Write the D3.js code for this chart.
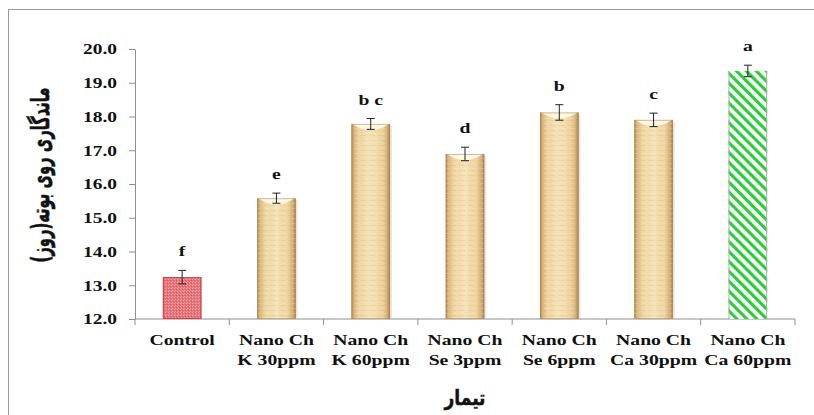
<!DOCTYPE html>
<html>
<head>
<meta charset="utf-8">
<script src="https://cdn.jsdelivr.net/npm/d3@7"></script>
<style>
  html, body { margin: 0; padding: 0; background: #fff; }
  svg { display: block; }
</style>
</head>
<body>
<svg id="chart" width="814" height="415"></svg>
<script>
// Treatments, shelf-life means (days), standard errors and grouping letters
const categories = [
  ["Control"],
  ["Nano Ch", "K 30ppm"],
  ["Nano Ch", "K 60ppm"],
  ["Nano Ch", "Se 3ppm"],
  ["Nano Ch", "Se 6ppm"],
  ["Nano Ch", "Ca 30ppm"],
  ["Nano Ch", "Ca 60ppm"]
];
const values = [13.24, 15.58, 17.78, 16.89, 18.12, 17.90, 19.35];
const errors = [0.20, 0.15, 0.16, 0.20, 0.23, 0.20, 0.17];
const letters = ["f", "e", "b c", "d", "b", "c", "a"];
const fillKinds = ["control", "tan", "tan", "tan", "tan", "tan", "stripe"];
const yTicks = [12, 13, 14, 15, 16, 17, 18, 19, 20];
const yTitle = "ماندگاری روی بوته(روز)";
const xTitle = "تیمار";

const svg = d3.select("#chart");
const W = 814, H = 415;
const plot = { left: 135, right: 795, top: 49, bottom: 319 };
const serif = "Liberation Serif, Times New Roman, DejaVu Serif, serif";
const arabic = "DejaVu Sans, sans-serif";
const axisGrey = "#8f8f8f";

// horizontal stretch so a reference string fills a given width
function stretchFor(sample, size, targetWidth, family) {
  const t = svg.append("text")
    .style("font-family", family).style("font-weight", "bold").style("font-size", size + "px")
    .text(sample);
  const w = t.node().getComputedTextLength();
  t.remove();
  return w > 0 ? targetWidth / w : 1;
}
const labelStretch = stretchFor("Nano Ch", 15, 75, serif);
const tickStretch = stretchFor("18.0", 14.5, 34, serif);

// outer frame
svg.append("rect")
  .attr("x", 8.5).attr("y", 9.5)
  .attr("width", W + 20).attr("height", H + 20)
  .attr("fill", "#fff").attr("stroke", "#9a9a9a").attr("stroke-width", 1);

const keys = categories.map((c, i) => "c" + i);
const x = d3.scaleBand().domain(keys).range([plot.left, plot.right]).paddingInner(0).paddingOuter(0);
const y = d3.scaleLinear().domain([12, 20]).range([plot.bottom, plot.top]);
const barW = x.bandwidth() * 0.41;

// ---- fills ----
const defs = svg.append("defs");

// tan bars: shaded cylinder with fine horizontal grain
const tanGrad = defs.append("linearGradient").attr("id", "tanGrad")
  .attr("x1", "0").attr("x2", "1").attr("y1", "0").attr("y2", "0");
[[0, "#b48a52"], [0.07, "#dab67c"], [0.2, "#efd6a2"], [0.5, "#f5e2b8"],
 [0.8, "#eed39f"], [0.93, "#d4ae74"], [1, "#a67d46"]]
  .forEach(([o, c]) => tanGrad.append("stop").attr("offset", o).attr("stop-color", c));

const grain = defs.append("pattern").attr("id", "grain")
  .attr("patternUnits", "userSpaceOnUse").attr("width", 9).attr("height", 5);
grain.append("rect").attr("width", 6).attr("height", 1).attr("y", 0)
  .attr("fill", "#c9a36a").attr("opacity", 0.18);
grain.append("rect").attr("width", 4).attr("height", 1).attr("x", 4).attr("y", 3)
  .attr("fill", "#fff6e0").attr("opacity", 0.25);

// control bar: stippled red
const dots = defs.append("pattern").attr("id", "dots")
  .attr("patternUnits", "userSpaceOnUse").attr("width", 3).attr("height", 3);
dots.append("rect").attr("width", 3).attr("height", 3).attr("fill", "#e6767c");
dots.append("rect").attr("width", 1).attr("height", 1).attr("x", 0).attr("y", 0).attr("fill", "#f4a9ab");
dots.append("rect").attr("width", 1).attr("height", 1).attr("x", 2).attr("y", 1).attr("fill", "#d85560");
dots.append("rect").attr("width", 1).attr("height", 1).attr("x", 1).attr("y", 2).attr("fill", "#f19497");

// green diagonal hatch, stripes falling to the right
const hatch = defs.append("pattern").attr("id", "hatch")
  .attr("patternUnits", "userSpaceOnUse").attr("width", 7).attr("height", 7)
  .attr("patternTransform", "rotate(-45)");
hatch.append("rect").attr("width", 7).attr("height", 7).attr("fill", "#ffffff");
hatch.append("rect").attr("width", 3.2).attr("height", 7).attr("fill", "#2ccc3c");

// ---- axes ----
const yAxis = svg.append("g")
  .attr("transform", `translate(${plot.left},0)`)
  .call(d3.axisLeft(y).tickValues(yTicks).tickFormat(d3.format(".1f")).tickSize(6).tickSizeOuter(0));
yAxis.select(".domain").attr("stroke", axisGrey);
yAxis.selectAll(".tick line").attr("stroke", axisGrey);
yAxis.selectAll(".tick text")
  .attr("x", -18 / tickStretch)
  .attr("dy", "0.34em")
  .attr("transform", `scale(${tickStretch},1)`)
  .attr("fill", "#111")
  .style("font-family", serif).style("font-weight", "bold").style("font-size", "14.5px");

const xAxis = svg.append("g").attr("transform", `translate(0,${plot.bottom})`);
xAxis.append("line")
  .attr("x1", plot.left).attr("x2", plot.right)
  .attr("stroke", axisGrey);
const bounds = keys.map(k => x(k)).concat([x.range()[1]]);
xAxis.selectAll("line.bound").data(bounds).join("line").attr("class", "bound")
  .attr("x1", d => d).attr("x2", d => d).attr("y1", 0).attr("y2", 6)
  .attr("stroke", axisGrey);

// ---- bars ----
const bars = svg.append("g");
keys.forEach((k, i) => {
  const cx = x(k) + x.bandwidth() / 2;
  const x0 = cx - barW / 2;
  const yTop = y(values[i]);
  const h = y(12) - yTop;
  const g = bars.append("g");
  if (fillKinds[i] === "tan") {
    g.append("rect").attr("x", x0 + 2).attr("y", yTop + 2).attr("width", barW).attr("height", h - 2)
      .attr("fill", "#d8d2c8").attr("opacity", 0.5);
    g.append("rect").attr("x", x0).attr("y", yTop).attr("width", barW).attr("height", h)
      .attr("fill", "url(#tanGrad)");
    g.append("rect").attr("x", x0).attr("y", yTop).attr("width", barW).attr("height", h)
      .attr("fill", "url(#grain)");
    // light rounded cap at the top
    g.append("path")
      .attr("d", `M${x0 + 1},${yTop} L${x0 + barW - 1},${yTop} Q${cx},${yTop + 12} ${x0 + 1},${yTop} Z`)
      .attr("fill", "#fff8e4");
    g.append("rect").attr("x", x0 + 0.5).attr("y", yTop + 0.5).attr("width", barW - 1).attr("height", h - 1)
      .attr("fill", "none").attr("stroke", "#a8804c").attr("stroke-width", 1).attr("opacity", 0.5);
  } else if (fillKinds[i] === "control") {
    g.append("rect").attr("x", x0).attr("y", yTop).attr("width", barW).attr("height", h)
      .attr("fill", "url(#dots)");
    g.append("rect").attr("x", x0 + 0.5).attr("y", yTop + 0.5).attr("width", barW - 1).attr("height", h - 1)
      .attr("fill", "none").attr("stroke", "#c8414e").attr("stroke-width", 1);
  } else {
    g.append("rect").attr("x", x0).attr("y", yTop).attr("width", barW).attr("height", h)
      .attr("fill", "url(#hatch)");
    g.append("line").attr("x1", x0 + 0.5).attr("x2", x0 + 0.5).attr("y1", yTop).attr("y2", y(12))
      .attr("stroke", "#a7b3a7");
    g.append("line").attr("x1", x0 + barW - 0.5).attr("x2", x0 + barW - 0.5).attr("y1", yTop).attr("y2", y(12))
      .attr("stroke", "#a7b3a7");
  }

  // error bar
  const eHi = y(values[i] + errors[i]);
  const eLo = y(values[i] - errors[i]);
  const eb = svg.append("g").attr("stroke", "#222").attr("stroke-width", 1);
  eb.append("line").attr("x1", cx).attr("x2", cx).attr("y1", eHi).attr("y2", eLo);
  eb.append("line").attr("x1", cx - 4).attr("x2", cx + 4).attr("y1", eHi).attr("y2", eHi);
  eb.append("line").attr("x1", cx - 4).attr("x2", cx + 4).attr("y1", eLo).attr("y2", eLo);

  // grouping letter
  svg.append("text")
    .attr("transform", `translate(${cx},${eHi - 14}) scale(${labelStretch},1)`)
    .attr("text-anchor", "middle")
    .attr("fill", "#111")
    .style("font-family", serif).style("font-weight", "bold").style("font-size", "15px")
    .text(letters[i]);

  // category label (one or two lines)
  categories[i].forEach((line, j) => {
    svg.append("text")
      .attr("transform", `translate(${cx},${345 + j * 19.5}) scale(${labelStretch},1)`)
      .attr("text-anchor", "middle")
      .attr("fill", "#111")
      .style("font-family", serif).style("font-weight", "bold").style("font-size", "15px")
      .text(line);
  });
});

// ---- axis titles (heavy Persian lettering) ----
const yTitleStretch = stretchFor(yTitle, 25, 175, arabic);
svg.append("text")
  .attr("transform", `translate(49,175) rotate(-90) scale(${yTitleStretch},1)`)
  .attr("text-anchor", "middle")
  .attr("fill", "#111").attr("stroke", "#111").attr("stroke-width", 0.6)
  .style("font-family", arabic).style("font-weight", "bold").style("font-size", "25px")
  .text(yTitle);

const xTitleStretch = stretchFor(xTitle, 21, 41, arabic);
svg.append("text")
  .attr("transform", `translate(${(plot.left + plot.right) / 2},405) scale(${xTitleStretch},1)`)
  .attr("text-anchor", "middle")
  .attr("fill", "#111").attr("stroke", "#111").attr("stroke-width", 0.5)
  .style("font-family", arabic).style("font-weight", "bold").style("font-size", "21px")
  .text(xTitle);
</script>
</body>
</html>
